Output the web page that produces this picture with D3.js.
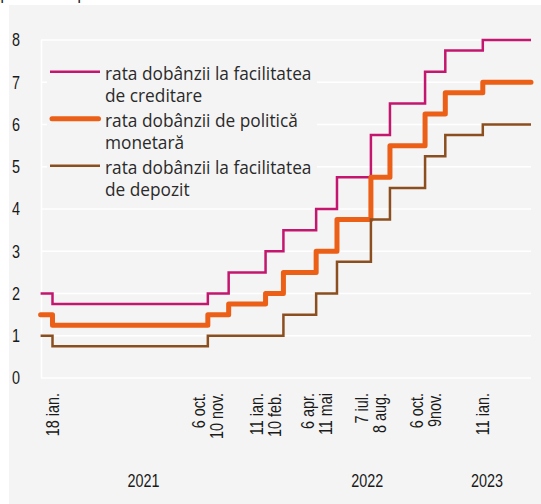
<!DOCTYPE html>
<html><head><meta charset="utf-8">
<script src="https://cdn.jsdelivr.net/npm/d3@7/dist/d3.min.js"></script>
<style>body{margin:0;background:#fff;overflow:hidden}</style>
</head><body>
<svg id="chart" width="541" height="504"></svg>
<script>
// ---- data ----
const changeDates = ["2020-12-29","2021-01-18","2021-10-06","2021-11-10","2022-01-11","2022-02-10","2022-04-06","2022-05-11","2022-07-07","2022-08-08","2022-10-06","2022-11-09","2023-01-11","2023-04-02"];
const lendingRate = [2.00,1.75,2.00,2.50,3.00,3.50,4.00,4.75,5.75,6.50,7.25,7.75,8.00,8.00];
const policyRate  = [1.50,1.25,1.50,1.75,2.00,2.50,3.00,3.75,4.75,5.50,6.25,6.75,7.00,7.00];
const depositRate = [1.00,0.75,1.00,1.00,1.00,1.50,2.00,2.75,3.75,4.50,5.25,5.75,6.00,6.00];
const yTicks = [0,1,2,3,4,5,6,7,8];
const tickLabelDates = ["2021-01-18","2021-10-06","2022-01-11","2022-04-06","2022-07-07","2022-10-06","2023-01-11"];
const tickLabelTexts = [["18 ian."],["6 oct.","10 nov."],["11 ian.","10 feb."],["6 apr.","11 mai"],["7 iul.","8 aug."],["6 oct.","9nov."],["11 ian."]];
const yearLabels = ["2021","2022","2023"];
const yearLabelDates = ["2021-06-20","2022-07-01","2023-01-18"];
const seriesNames = [["rata dobânzii la facilitatea","de creditare"],["rata dobânzii de politică","monetară"],["rata dobânzii la facilitatea","de depozit"]];
const unitLabel = "procente pe an";

// ---- styles ----
const colors = ["#c4166f","#ec5f17","#8b4e1e"];
const widths = [2.5,5,2.5];
const bg = "#f4f4f4";
const narrowBase = "'Liberation Sans',Arial,sans-serif"; // compressed horizontally to mimic a condensed face
const narrowScale = 0.8;
const narrowSize = "18px";
const regular = "'Open Sans','Noto Sans',sans-serif";

const parse = d3.utcParse("%Y-%m-%d");
const svg = d3.select("#chart");

svg.append("text").attr("x",0).attr("y",-1)
  .style("font-family",regular).style("font-size","17.3px").attr("fill","#222")
  .text(unitLabel);

svg.append("rect").attr("x",9).attr("y",5).attr("width",532).attr("height",499).attr("fill",bg);

const x = d3.scaleUtc().domain([parse(changeDates[0]), parse(changeDates[changeDates.length-1])]).range([40.6,531]);
const y = d3.scaleLinear().domain([0,8]).range([378,40]);

// gridlines
svg.append("g").selectAll("line").data(yTicks).join("line")
  .attr("x1",41).attr("x2",531).attr("y1",d=>y(d)).attr("y2",d=>y(d))
  .attr("stroke","#fff").attr("stroke-width",1.6);
svg.append("line").attr("x1",41.5).attr("x2",41.5).attr("y1",y(8)).attr("y2",y(0))
  .attr("stroke","#fff").attr("stroke-width",1.6);

function narrowText(sel){
  return sel.style("font-family",narrowBase).style("font-size",narrowSize).attr("fill","#1a1a1a");
}

// y labels
svg.append("g").selectAll("text").data(yTicks).join("text")
  .attr("transform",d=>`translate(16,${y(d)}) scale(${narrowScale},1)`)
  .attr("dy","0.36em").attr("text-anchor","middle")
  .call(narrowText)
  .text(d=>d);

// legend background (covers gridlines)
svg.append("rect").attr("x",47).attr("y",48).attr("width",270).attr("height",156).attr("fill",bg);

// lines
const allSeries = [lendingRate, policyRate, depositRate];
const line = d3.line().x(d=>x(d.date)).y(d=>y(d.v)).curve(d3.curveStepAfter);
allSeries.forEach((vals,i)=>{
  const pts = changeDates.map((d,j)=>({date:parse(d), v:vals[j]}));
  svg.append("path").datum(pts).attr("d",line)
    .attr("fill","none").attr("stroke",colors[i]).attr("stroke-width",widths[i])
    .attr("stroke-linejoin", i===1 ? "round" : "miter")
    .attr("stroke-linecap", i===1 ? "round" : "butt");
});

// legend
const legY0 = 71.7, legStep = 47;
seriesNames.forEach((lines,i)=>{
  const ly = legY0 + i*legStep;
  svg.append("line").attr("x1", i===1?52:50).attr("x2", i===1?98.5:100).attr("y1",ly).attr("y2",ly)
    .attr("stroke",colors[i]).attr("stroke-width",widths[i])
    .attr("stroke-linecap", i===1 ? "round" : "butt");
  const t = svg.append("text").attr("x",105).attr("y",ly+8.6)
    .style("font-family",regular).style("font-size","17.3px").attr("fill","#2a2a2a");
  lines.forEach((s,k)=>{
    t.append("tspan").attr("x",105).attr("dy", k===0?0:21.5).text(s);
  });
});

// x tick labels (rotated)
tickLabelDates.forEach((d,i)=>{
  const lines = tickLabelTexts[i];
  const g = svg.append("g").attr("transform",`translate(${x(parse(d))},393) rotate(-90) scale(${narrowScale},1)`);
  const n = lines.length;
  lines.forEach((s,k)=>{
    g.append("text").attr("x",0).attr("y",(k-(n-1)/2)*18).attr("dy","0.36em")
      .attr("text-anchor","end")
      .call(narrowText)
      .text(s);
  });
});

// year labels
svg.append("g").selectAll("text").data(yearLabels).join("text")
  .attr("transform",(d,i)=>`translate(${x(parse(yearLabelDates[i]))},486.5) scale(${narrowScale},1)`)
  .attr("text-anchor","middle")
  .call(narrowText)
  .text(d=>d);
</script>
</body></html>
